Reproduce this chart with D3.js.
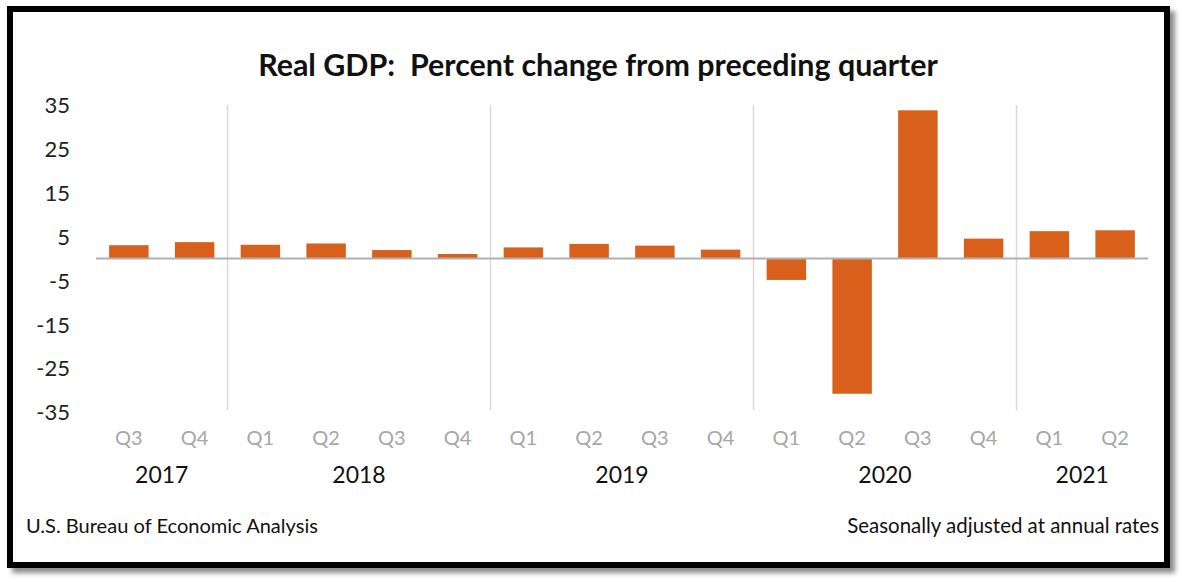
<!DOCTYPE html>
<html>
<head>
<meta charset="utf-8">
<script src="https://cdn.jsdelivr.net/npm/d3@7"></script>
<style>
html,body{margin:0;padding:0;background:#fff;}
svg{display:block;}
text{font-family:Lato,"Open Sans",sans-serif;}
</style>
</head>
<body>
<svg id="chart" width="1182" height="582"></svg>
<script>
// ---- data ----
const quarters = ["Q3","Q4","Q1","Q2","Q3","Q4","Q1","Q2","Q3","Q4","Q1","Q2","Q3","Q4","Q1","Q2"];
const years = ["2017","2017","2018","2018","2018","2018","2019","2019","2019","2019","2020","2020","2020","2020","2021","2021"];
const values = [3.0, 3.7, 3.1, 3.4, 1.9, 1.0, 2.5, 3.3, 2.9, 2.0, -4.9, -30.8, 33.7, 4.5, 6.2, 6.4];
const yTicks = [35, 25, 15, 5, -5, -15, -25, -35];
const titleText = "Real GDP:  Percent change from preceding quarter";
const sourceText = "U.S. Bureau of Economic Analysis";
const noteText = "Seasonally adjusted at annual rates";

const svg = d3.select("#chart");

// drop shadow for frame
const defs = svg.append("defs");
const f = defs.append("filter").attr("id","shadow").attr("x","-5%").attr("y","-5%").attr("width","110%").attr("height","110%");
f.append("feDropShadow").attr("dx",5).attr("dy",5).attr("stdDeviation",2.5).attr("flood-color","#000").attr("flood-opacity",0.45);

svg.append("rect").attr("x",10).attr("y",9).attr("width",1157).attr("height",556)
  .attr("fill","#fff").attr("stroke","#000").attr("stroke-width",6).attr("filter","url(#shadow)");

const idx = d3.range(values.length);
const x = d3.scaleBand().domain(idx).range([96,1148]).paddingInner(0.4).paddingOuter(0.2);
const y = d3.scaleLinear().domain([-35,35]).range([412.2,104.6]);
const step = x.step();

function fit(sel, target){
  const w = sel.node().getComputedTextLength();
  const fs = parseFloat(sel.attr("font-size"));
  sel.attr("font-size", fs*target/w);
}

// year separators
const yearGroups = d3.groups(idx, i => years[i]);
const seps = yearGroups.slice(1).map(g => x(g[1][0]) - step*x.paddingInner()/2);
svg.append("g").selectAll("line").data(seps).join("line")
  .attr("x1",d=>d).attr("x2",d=>d).attr("y1",105).attr("y2",410)
  .attr("stroke","#d9d9d9").attr("stroke-width",1.5);

// bars
svg.append("g").selectAll("rect").data(idx).join("rect")
  .attr("x", i => x(i)).attr("width", x.bandwidth())
  .attr("y", i => y(Math.max(0, values[i])))
  .attr("height", i => Math.abs(y(values[i]) - y(0)))
  .attr("fill","#d9601a");

// zero line
svg.append("line").attr("x1",96).attr("x2",1148).attr("y1",y(0)).attr("y2",y(0))
  .attr("stroke","#b0b0b0").attr("stroke-width",2);

// y axis
const yAxis = svg.append("g").attr("transform","translate(70,0)")
  .call(d3.axisLeft(y).tickValues(yTicks).tickFormat(d => String(d)).tickSize(0).tickPadding(0));
yAxis.select(".domain").remove();
yAxis.selectAll("text").attr("font-size",22).attr("fill","#222").attr("font-family","Lato,sans-serif").attr("dy","0.35em");

// quarter labels
const qAxis = svg.append("g").attr("transform","translate(0,438)")
  .call(d3.axisBottom(x).tickFormat(i => quarters[i]).tickSize(0).tickPadding(0));
qAxis.select(".domain").remove();
qAxis.selectAll("text").attr("font-size",20).attr("fill","#a6a6a6").attr("font-family","Lato,sans-serif").attr("dy","0.35em").attr("y",0);

// year labels
svg.append("g").selectAll("text").data(yearGroups).join("text")
  .attr("x", g => (x(g[1][0]) + x(g[1][g[1].length-1]) + x.bandwidth())/2)
  .attr("y", 475).attr("dy","0.35em").attr("text-anchor","middle")
  .attr("font-size",23).attr("fill","#111").text(g => g[0]);

// title
const t = svg.append("text").attr("x",598).attr("y",65).attr("dy","0.35em").attr("text-anchor","middle")
  .style("white-space","pre").attr("xml:space","preserve")
  .attr("font-size",26).attr("font-weight","bold").attr("fill","#111").text(titleText);
fit(t, 680);

// footers
const s = svg.append("text").attr("x",26).attr("y",526).attr("dy","0.35em")
  .attr("font-size",18).attr("fill","#111").text(sourceText);
fit(s, 292);
const n = svg.append("text").attr("x",1159).attr("y",526).attr("dy","0.35em").attr("text-anchor","end")
  .attr("font-size",18).attr("fill","#111").text(noteText);
fit(n, 312);
</script>
</body>
</html>
